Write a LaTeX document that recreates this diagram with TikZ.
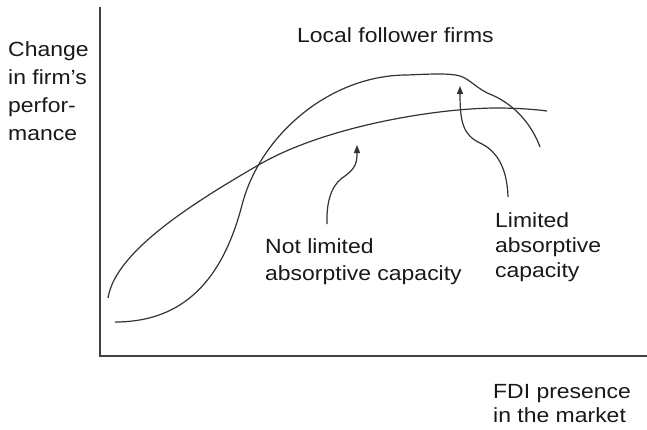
\documentclass[tikz,border=0pt]{standalone}
\usepackage{fontspec}
\setmainfont{Liberation Sans}[FakeStretch=1.12]
\usetikzlibrary{arrows.meta}
\begin{document}
\begin{tikzpicture}[x=1pt,y=-1pt,
  lbl/.style={anchor=base west,inner sep=0pt,align=left,text=black!90,
    font=\fontsize{20.5pt}{26pt}\selectfont},
  axisline/.style={draw=black!75,line width=1.5pt},
  curveline/.style={draw=black!80,line width=1.2pt},
  pointer/.style={draw=black!80,line width=1.2pt,-{Triangle[length=8pt,width=6pt]}}]
\useasboundingbox[fill=white] (0,0) rectangle (647,429);
% axes
\coordinate (ytop) at (100,7);
\coordinate (orig) at (100,356);
\coordinate (xend) at (647,356);
\draw[axisline] (ytop) -- (orig) -- (xend);
% concave curve (not limited absorptive capacity)
\draw[curveline] (108,298) .. controls (115,255) and (180,210) .. (262,163)
  .. controls (330,125) and (440,108) .. (497,108)
  .. controls (520,108) and (540,110) .. (547,111);
% S curve (limited absorptive capacity)
\draw[curveline] (115,322) .. controls (175,322) and (220,290) .. (242,205)
  .. controls (260,135) and (330,75) .. (407,75)
  .. controls (430,74) and (450,73) .. (460,76)
  .. controls (470,79) and (478,90) .. (492,95)
  .. controls (515,105) and (532,125) .. (540,147);
% labels (base anchor = baseline of last line)
\node[lbl,font=\fontsize{20.5pt}{28pt}\selectfont] (ylab) at (8,140) {Change\\in firm's\\perfor-\\mance};
\node[lbl] (title) at (297,42) {Local follower firms};
\node[lbl,font=\fontsize{20.5pt}{27pt}\selectfont] (notlim) at (265,280) {Not limited\\absorptive capacity};
\node[lbl,font=\fontsize{20.5pt}{25pt}\selectfont] (lim) at (495,277) {Limited\\absorptive\\capacity};
\node[lbl,font=\fontsize{20.5pt}{24pt}\selectfont] (xlab) at (493,422) {FDI presence\\in the market};
% pointers
\coordinate (p1tail) at (327,224);
\coordinate (p1tip) at (357,145);
\coordinate (p2tail) at (508,197);
\coordinate (p2tip) at (460,86);
\draw[pointer] (p1tail) .. controls (326,195) and (335,182) .. (345,176)
  .. controls (356,168) and (357,162) .. (p1tip);
\draw[pointer] (p2tail) .. controls (507,165) and (495,150) .. (480,143)
  .. controls (463,135) and (460,122) .. (p2tip);
\end{tikzpicture}
\end{document}
